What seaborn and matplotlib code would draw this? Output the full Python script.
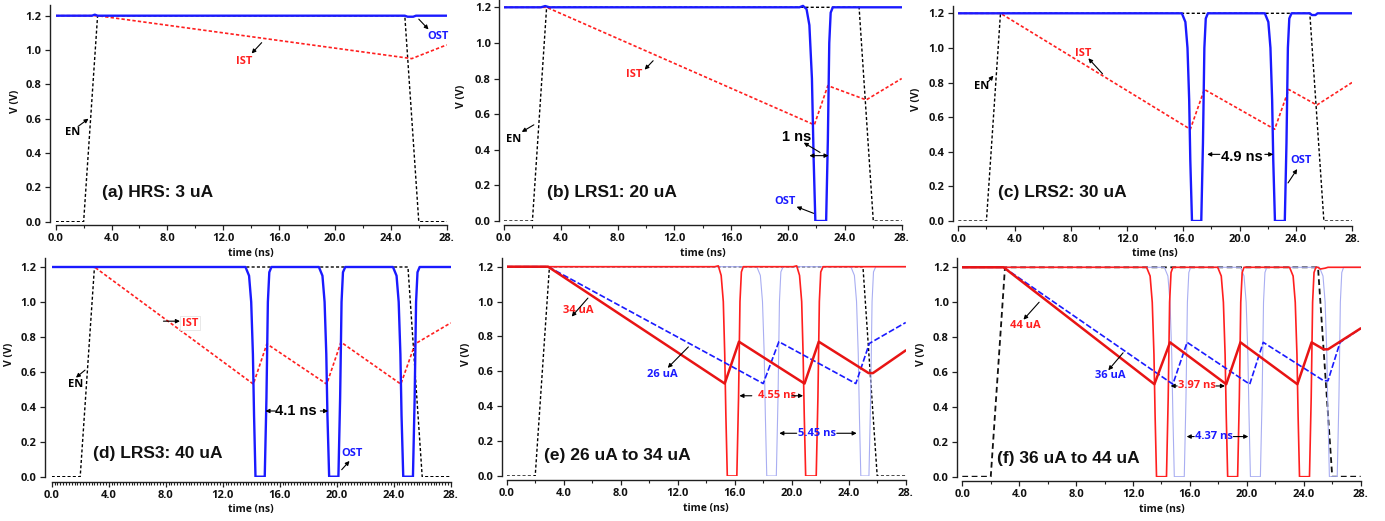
import matplotlib
matplotlib.use("Agg")
import matplotlib.pyplot as plt
import seaborn as sns
from matplotlib.ticker import FixedLocator, FixedFormatter, MultipleLocator

# ---------------- data ----------------
XTICKS = [0, 4, 8, 12, 16, 20, 24, 28]
XTICK_LABELS = ["0.0", "4.0", "8.0", "12.0", "16.0", "20.0", "24.0", "28."]
YTICKS = [0.0, 0.2, 0.4, 0.6, 0.8, 1.0, 1.2]
YTICK_LABELS = ["0.0", "0.2", "0.4", "0.6", "0.8", "1.0", "1.2"]

EN_T = [0.0, 2.0, 3.0, 25.0, 26.0, 28.0]
EN_V = [0.0, 0.0, 1.2, 1.2, 0.0, 0.0]

# (a) HRS 3 uA
IST_A_T = [0.0, 3.0, 25.5, 28.0]
IST_A_V = [1.2, 1.2, 0.95, 1.03]
OST_A_T = [0.0, 2.6, 2.8, 3.0, 25.0, 25.2, 25.6, 25.8, 28.0]
OST_A_V = [1.2, 1.2, 1.206, 1.2, 1.2, 1.194, 1.194, 1.2, 1.2]

# (b) LRS1 20 uA
IST_B_T = [0.0, 3.0, 21.85, 22.8, 25.5, 28.0]
IST_B_V = [1.2, 1.2, 0.54, 0.76, 0.68, 0.80]
OST_B_T = [0.0, 2.6, 2.9, 3.2, 20.8, 21.05, 21.3, 21.5, 21.68, 21.8, 21.92, 22.68, 22.8, 22.9, 23.0, 23.15, 28.0]
OST_B_V = [1.2, 1.2, 1.207, 1.2, 1.2, 1.208, 1.19, 1.1, 0.8, 0.35, 0.0, 0.0, 0.45, 1.0, 1.17, 1.2, 1.2]

# (c) LRS2 30 uA
IST_C_T = [0.0, 3.0, 16.5, 17.5, 22.5, 23.5, 25.5, 28.0]
IST_C_V = [1.2, 1.2, 0.53, 0.76, 0.53, 0.76, 0.67, 0.80]
OST_C_T = [0.0, 15.9, 16.15, 16.3, 16.42, 16.5, 16.62, 17.28, 17.4, 17.5, 17.6, 17.75,
           21.8, 22.05, 22.2, 22.32, 22.4, 22.52, 23.22, 23.34, 23.44, 23.54, 23.7,
           25.0, 25.15, 25.4, 25.55, 28.0]
OST_C_V = [1.2, 1.2, 1.15, 1.0, 0.7, 0.35, 0.0, 0.0, 0.45, 1.0, 1.17, 1.2,
           1.2, 1.15, 1.0, 0.7, 0.35, 0.0, 0.0, 0.45, 1.0, 1.17, 1.2,
           1.2, 1.19, 1.19, 1.2, 1.2]

# (d) LRS3 40 uA
IST_D_T = [0.0, 3.0, 14.15, 15.1, 19.3, 20.3, 24.5, 25.5, 28.0]
IST_D_V = [1.2, 1.2, 0.53, 0.76, 0.53, 0.77, 0.53, 0.76, 0.88]
OST_D_T = [0.0, 13.6, 13.85, 14.0, 14.12, 14.2, 14.3, 14.95, 15.07, 15.17, 15.27, 15.42,
           18.75, 19.0, 19.15, 19.27, 19.35, 19.47, 20.12, 20.24, 20.34, 20.44, 20.6,
           23.95, 24.2, 24.35, 24.47, 24.55, 24.67, 25.35, 25.47, 25.57, 25.67, 25.82, 28.0]
OST_D_V = [1.2, 1.2, 1.15, 1.0, 0.7, 0.35, 0.0, 0.0, 0.45, 1.0, 1.17, 1.2,
           1.2, 1.15, 1.0, 0.7, 0.35, 0.0, 0.0, 0.45, 1.0, 1.17, 1.2,
           1.2, 1.15, 1.0, 0.7, 0.35, 0.0, 0.0, 0.45, 1.0, 1.17, 1.2, 1.2]

# (e) 26 uA vs 34 uA
IST_E34_T = [0.0, 2.9, 15.3, 16.3, 20.9, 21.9, 25.4, 25.7, 28.0]
IST_E34_V = [1.2, 1.2, 0.53, 0.77, 0.53, 0.77, 0.59, 0.59, 0.72]
IST_E26_T = [0.0, 2.9, 18.0, 19.1, 24.5, 25.45, 28.0]
IST_E26_V = [1.2, 1.2, 0.53, 0.77, 0.53, 0.76, 0.88]
OST_E34_T = [0.0, 14.6, 14.85, 15.05, 15.2, 15.3, 15.38, 15.48, 16.15, 16.27, 16.37, 16.47, 16.6,
             20.1, 20.35, 20.55, 20.7, 20.8, 20.88, 20.98, 21.72, 21.84, 21.94, 22.04, 22.2, 28.0]
OST_E34_V = [1.2, 1.2, 1.205, 1.15, 1.0, 0.7, 0.35, 0.0, 0.0, 0.45, 1.0, 1.17, 1.2,
             1.2, 1.205, 1.15, 1.0, 0.7, 0.35, 0.0, 0.0, 0.45, 1.0, 1.17, 1.2, 1.2]
OST_E26_T = [0.0, 17.55, 17.8, 17.95, 18.07, 18.15, 18.25, 18.92, 19.04, 19.14, 19.24, 19.4,
             24.15, 24.4, 24.55, 24.67, 24.75, 24.85, 25.42, 25.54, 25.64, 25.74, 25.9, 28.0]
OST_E26_V = [1.2, 1.2, 1.15, 1.0, 0.7, 0.35, 0.0, 0.0, 0.45, 1.0, 1.17, 1.2,
             1.2, 1.15, 1.0, 0.7, 0.35, 0.0, 0.0, 0.45, 1.0, 1.17, 1.2, 1.2]

# (f) 36 uA vs 44 uA
IST_F44_T = [0.0, 2.9, 13.5, 14.6, 18.55, 19.55, 23.55, 24.55, 25.4, 25.7, 28.0]
IST_F44_V = [1.2, 1.2, 0.53, 0.77, 0.53, 0.77, 0.53, 0.77, 0.73, 0.73, 0.85]
IST_F36_T = [0.0, 2.9, 14.8, 15.8, 20.2, 21.15, 25.4, 25.7, 26.55, 28.0]
IST_F36_V = [1.2, 1.2, 0.53, 0.77, 0.53, 0.77, 0.55, 0.55, 0.77, 0.85]
OST_F44_T = [0.0, 12.95, 13.2, 13.35, 13.47, 13.55, 13.65, 14.35, 14.47, 14.57, 14.67, 14.8,
             17.95, 18.2, 18.35, 18.47, 18.55, 18.65, 19.35, 19.47, 19.57, 19.67, 19.8,
             23.0, 23.25, 23.4, 23.52, 23.6, 23.7, 24.4, 24.52, 24.62, 24.72, 24.85,
             25.0, 25.15, 25.5, 25.7, 28.0]
OST_F44_V = [1.2, 1.2, 1.15, 1.0, 0.7, 0.35, 0.0, 0.0, 0.45, 1.0, 1.17, 1.2,
             1.2, 1.15, 1.0, 0.7, 0.35, 0.0, 0.0, 0.45, 1.0, 1.17, 1.2,
             1.2, 1.15, 1.0, 0.7, 0.35, 0.0, 0.0, 0.45, 1.0, 1.17, 1.2,
             1.2, 1.19, 1.195, 1.2, 1.2]
OST_F36_T = [0.0, 14.2, 14.45, 14.6, 14.72, 14.8, 14.9, 15.6, 15.72, 15.82, 15.92, 16.05,
             19.55, 19.8, 19.95, 20.07, 20.15, 20.25, 20.95, 21.07, 21.17, 21.27, 21.4,
             25.1, 25.35, 25.5, 25.62, 25.7, 25.8, 26.35, 26.47, 26.57, 26.67, 26.8, 28.0]
OST_F36_V = [1.2, 1.2, 1.15, 1.0, 0.7, 0.35, 0.0, 0.0, 0.45, 1.0, 1.17, 1.2,
             1.2, 1.15, 1.0, 0.7, 0.35, 0.0, 0.0, 0.45, 1.0, 1.17, 1.2,
             1.2, 1.15, 1.0, 0.7, 0.35, 0.0, 0.0, 0.45, 1.0, 1.17, 1.2, 1.2]

TITLES = ["(a) HRS: 3 uA", "(b) LRS1: 20 uA", "(c) LRS2: 30 uA",
          "(d) LRS3: 40 uA", "(e) 26 uA to 34 uA", "(f) 36 uA to 44 uA"]

# ---------------- style ----------------
sns.set_theme(style="ticks")
plt.rcParams['font.family'] = ['Open Sans', 'DejaVu Sans']
plt.rcParams['font.weight'] = 'bold'
plt.rcParams['axes.labelweight'] = 'bold'

RED = "#ff1f1f"
BLUE = "#1a1aff"
LBLUE = "#a9aef2"
SPINE = "#202020"

W, H = 1385, 521
fig = plt.figure(figsize=(W / 100, H / 100), dpi=100)

# panel geometry in pixels: x(0), x(28), y(0), y(1.2), spine top, left offset, bottom offset, ylabel x, minor step
GEOM = [
    (55.7, 446.7, 221.7, 15.7, 5, 5.7, 3.3, 16, 2.0),
    (504.0, 901.7, 221.0, 7.3, 0, 4.7, 4.0, 461.7, 2.0),
    (958.3, 1352.0, 221.0, 13.3, 6, 5.6, 4.7, 917, 2.0),
    (51.7, 450.7, 476.7, 267.0, 258, 6.7, 5.0, 10, 0.2),
    (506.7, 905.7, 476.0, 266.7, 258, 5.0, 4.0, 466.7, 2.0),
    (962.3, 1360.7, 476.7, 267.3, 258, 5.0, 4.3, 922, 2.0),
]

TITLE_POS = [(3.3, 0.17), (3.0, 0.16), (2.8, 0.164), (2.9, 0.134), (2.6, 0.115), (2.46, 0.105)]

axes = []
for (x0, x28, y0, y12, ytop, offl, offb, ylx, mstep), title, tpos in zip(GEOM, TITLES, TITLE_POS):
    ax = fig.add_axes([x0 / W, 1 - y0 / H, (x28 - x0) / W, (y0 - ytop) / H])
    ax.set_facecolor("white")
    ytop_val = 1.2 * (y0 - ytop) / (y0 - y12)
    ax.set_xlim(0, 28)
    ax.set_ylim(0, ytop_val)
    sns.despine(ax=ax, offset={'left': offl * 0.72, 'bottom': offb * 0.72})
    for s in ("left", "bottom"):
        ax.spines[s].set_color(SPINE)
        ax.spines[s].set_linewidth(1.0)
    ax.xaxis.set_major_locator(FixedLocator(XTICKS))
    ax.xaxis.set_major_formatter(FixedFormatter(XTICK_LABELS))
    ax.xaxis.set_minor_locator(MultipleLocator(mstep))
    ax.yaxis.set_major_locator(FixedLocator(YTICKS))
    ax.yaxis.set_major_formatter(FixedFormatter(YTICK_LABELS))
    ax.tick_params(axis="both", which="major", length=3.6, width=0.9, color=SPINE,
                   labelsize=8, labelcolor="#111111", pad=2.5)
    ax.tick_params(axis="x", which="minor", length=2.2 if mstep > 1 else 1.8, width=0.8, color=SPINE)
    ax.tick_params(axis="y", which="minor", length=0)
    for lab in ax.get_xticklabels() + ax.get_yticklabels():
        lab.set_fontweight("bold")
    ax.set_xlabel("time (ns)", fontsize=7.5, fontweight="bold", color="#111111")
    ax.set_ylabel("V (V)", fontsize=7.5, fontweight="bold", color="#111111")
    wpx = x28 - x0
    hpx = y0 - ytop
    ax.yaxis.set_label_coords((ylx + 5 - x0) / wpx, (0.70 * (y0 - y12) / 1.2) / hpx)
    ax.xaxis.set_label_coords(0.5, -(26.0 + offb - 3.3) / hpx)
    ax.text(tpos[0], tpos[1], title, fontsize=12.5, fontweight="bold",
            family=["Liberation Sans", "DejaVu Sans"], ha="left", va="center", color="#111111")
    axes.append(ax)


def trace(ax, t, v, **kw):
    sns.lineplot(x=t, y=v, ax=ax, estimator=None, sort=False, legend=False, **kw)


def arrow(ax, tail, head, color="black", style="-|>"):
    ax.annotate("", xy=head, xytext=tail,
                arrowprops=dict(arrowstyle=style, color=color, lw=0.8,
                                mutation_scale=6, shrinkA=0, shrinkB=0))


def label(ax, x, y, s, color="black", size=8, family=None, **kw):
    ax.text(x, y, s, color=color, fontsize=size, fontweight="bold", ha="center", va="center",
            family=family if family else ["Open Sans", "DejaVu Sans"], **kw)


EN_STYLE = dict(color="black", lw=1.0, linestyle=(0, (2.2, 1.6)))
IST_STYLE = dict(color=RED, lw=1.2, linestyle=(0, (2.0, 1.3)))
OST_STYLE = dict(color=BLUE, lw=1.7)

# (a)
ax = axes[0]
trace(ax, EN_T, EN_V, **EN_STYLE)
trace(ax, IST_A_T, IST_A_V, **IST_STYLE)
trace(ax, OST_A_T, OST_A_V, **OST_STYLE)
label(ax, 1.2, 0.52, "EN")
arrow(ax, (1.6, 0.555), (2.35, 0.60))
label(ax, 13.5, 0.936, "IST", RED)
arrow(ax, (14.75, 1.043), (14.03, 0.98))
label(ax, 27.35, 1.08, "OST", BLUE)
arrow(ax, (26.0, 1.18), (26.7, 1.12))

# (b)
ax = axes[1]
trace(ax, EN_T, EN_V, **EN_STYLE)
trace(ax, IST_B_T, IST_B_V, **IST_STYLE)
trace(ax, OST_B_T, OST_B_V, **OST_STYLE)
label(ax, 0.7, 0.455, "EN")
arrow(ax, (2.1, 0.54), (1.25, 0.50))
label(ax, 9.2, 0.82, "IST", RED)
arrow(ax, (10.5, 0.90), (9.9, 0.85))
label(ax, 19.8, 0.11, "OST", BLUE)
arrow(ax, (21.8, 0.043), (20.6, 0.08))
label(ax, 20.6, 0.47, "1 ns", size=10.5, family=["Liberation Sans", "DejaVu Sans"])
arrow(ax, (22.25, 0.385), (21.1, 0.44))
arrow(ax, (21.5, 0.367), (22.85, 0.367), style="<|-|>")

# (c)
ax = axes[2]
trace(ax, EN_T, EN_V, **EN_STYLE)
trace(ax, IST_C_T, IST_C_V, **IST_STYLE)
trace(ax, OST_C_T, OST_C_V, **OST_STYLE)
label(ax, 1.66, 0.775, "EN")
arrow(ax, (2.13, 0.805), (2.5, 0.84))
label(ax, 8.9, 0.97, "IST", RED)
arrow(ax, (10.26, 0.85), (9.25, 0.94))
label(ax, 24.4, 0.35, "OST", BLUE)
arrow(ax, (23.45, 0.22), (24.1, 0.30))
label(ax, 20.15, 0.37, "4.9 ns", size=10.5, family=["Liberation Sans", "DejaVu Sans"])
arrow(ax, (18.6, 0.385), (17.7, 0.385))
arrow(ax, (21.8, 0.385), (22.4, 0.385))

# (d)
ax = axes[3]
trace(ax, EN_T, EN_V, **EN_STYLE)
trace(ax, IST_D_T, IST_D_V, **IST_STYLE)
trace(ax, OST_D_T, OST_D_V, **OST_STYLE)
label(ax, 1.7, 0.53, "EN")
arrow(ax, (2.34, 0.61), (1.7, 0.567))
label(ax, 9.7, 0.878, "IST", RED,
      bbox=dict(boxstyle="square,pad=0.15", fc="white", ec="#e4e4e4", lw=0.6))
arrow(ax, (7.84, 0.89), (9.0, 0.89))
label(ax, 21.05, 0.134, "OST", BLUE)
arrow(ax, (20.35, 0.04), (20.9, 0.09))
label(ax, 17.1, 0.376, "4.1 ns", size=10.5, family=["Liberation Sans", "DejaVu Sans"])
arrow(ax, (15.7, 0.376), (15.0, 0.376))
arrow(ax, (18.85, 0.376), (19.4, 0.376))

# (e)
ax = axes[4]
trace(ax, EN_T, EN_V, **EN_STYLE)
trace(ax, OST_E26_T, OST_E26_V, color=LBLUE, lw=0.8)
trace(ax, OST_E34_T, OST_E34_V, color=RED, lw=1.2)
trace(ax, IST_E26_T, IST_E26_V, color=BLUE, lw=1.2, linestyle=(0, (3.6, 1.4)))
trace(ax, IST_E34_T, IST_E34_V, color="#e81414", lw=1.8)
label(ax, 5.0, 0.95, "34 uA", RED)
arrow(ax, (5.7, 1.02), (4.56, 0.914))
label(ax, 10.9, 0.58, "26 uA", BLUE)
arrow(ax, (12.75, 0.74), (11.3, 0.62))
label(ax, 18.95, 0.46, "4.55 ns", RED)
arrow(ax, (17.2, 0.46), (16.33, 0.46))
arrow(ax, (20.0, 0.46), (20.8, 0.46))
label(ax, 21.75, 0.245, "5.45 ns", BLUE)
arrow(ax, (20.35, 0.245), (19.13, 0.245))
arrow(ax, (23.16, 0.245), (24.56, 0.245))

# (f)
ax = axes[5]
trace(ax, EN_T, EN_V, color="#111111", lw=1.3, linestyle=(0, (3.2, 2.0)))
trace(ax, OST_F36_T, OST_F36_V, color=LBLUE, lw=0.8)
trace(ax, OST_F44_T, OST_F44_V, color=RED, lw=1.2)
trace(ax, IST_F36_T, IST_F36_V, color=BLUE, lw=1.2, linestyle=(0, (3.6, 1.4)))
trace(ax, IST_F44_T, IST_F44_V, color="#e81414", lw=1.8)
label(ax, 4.4, 0.866, "44 uA", RED)
arrow(ax, (5.4, 1.0), (4.3, 0.90))
label(ax, 10.4, 0.58, "36 uA", BLUE)
arrow(ax, (11.3, 0.71), (10.26, 0.61))
label(ax, 16.47, 0.52, "3.97 ns", RED)
arrow(ax, (15.1, 0.52), (14.64, 0.52))
arrow(ax, (17.83, 0.52), (18.46, 0.52))
label(ax, 17.67, 0.23, "4.37 ns", BLUE)
arrow(ax, (16.3, 0.23), (15.77, 0.23))
arrow(ax, (19.05, 0.23), (20.1, 0.23))

fig.savefig("out.png", dpi=100, facecolor="white")
